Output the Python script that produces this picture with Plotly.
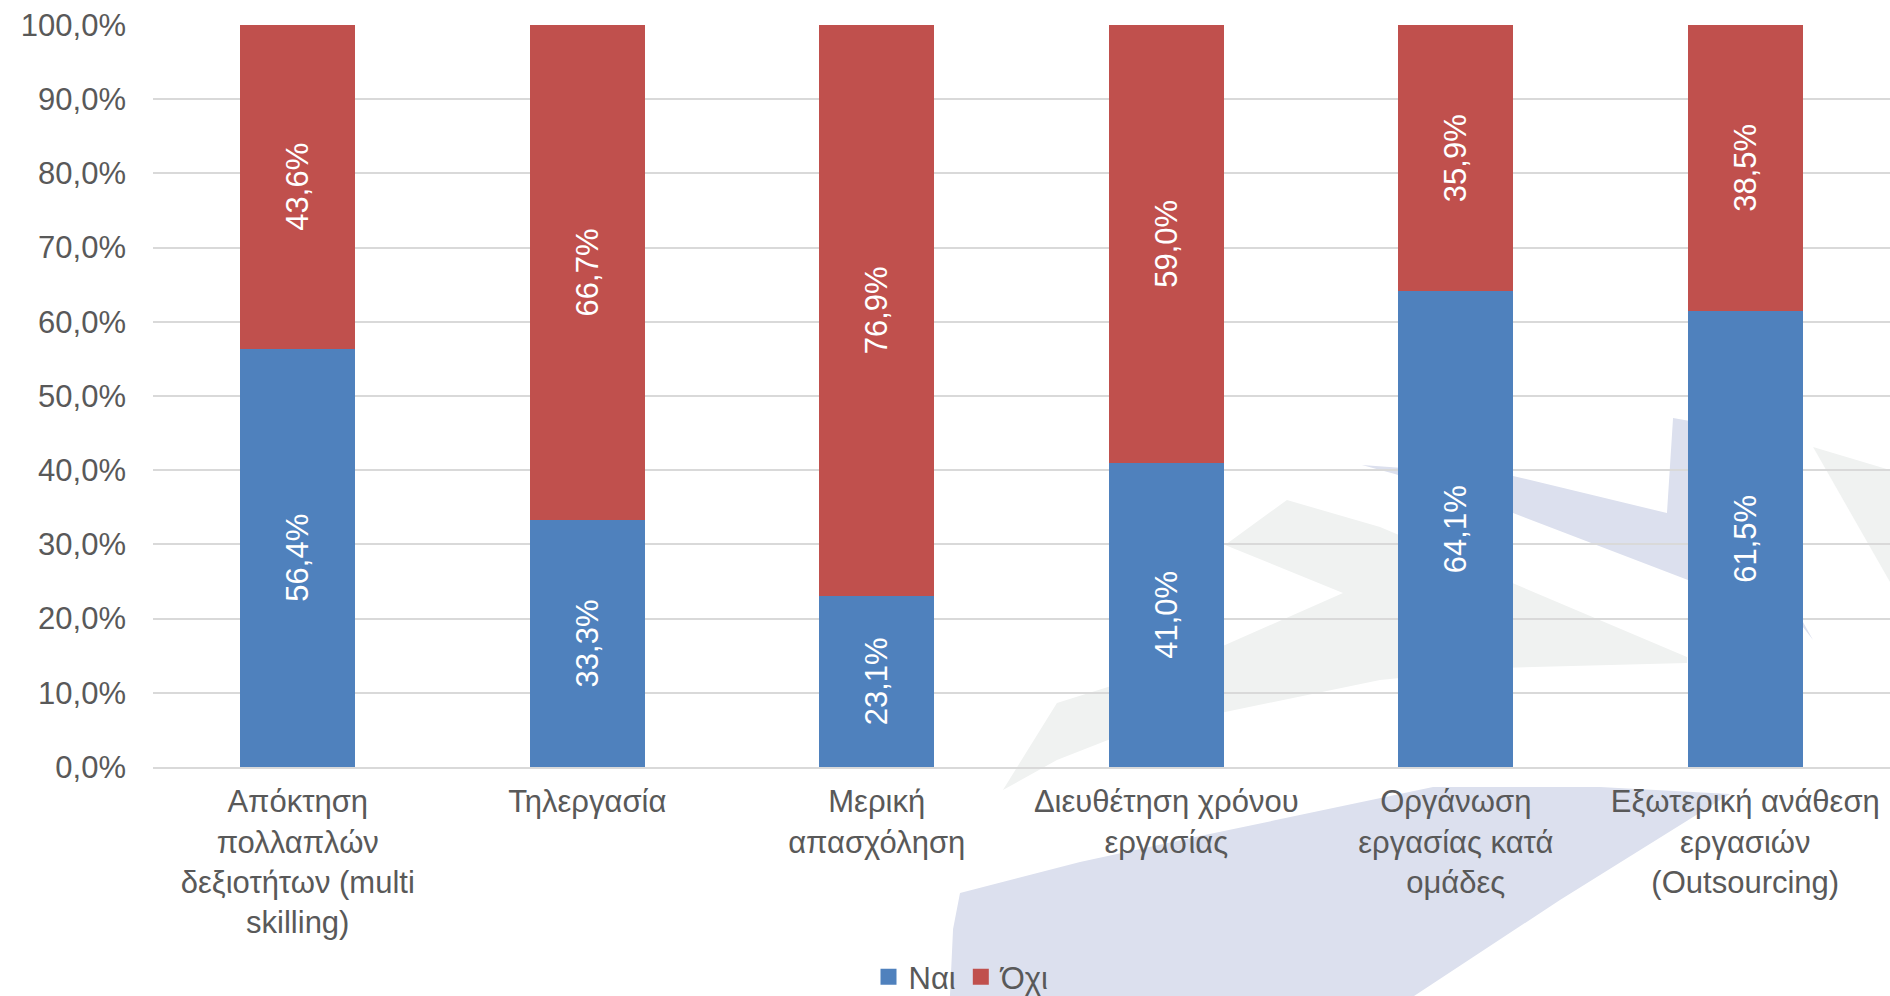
import plotly.graph_objects as go

categories = [
    "Απόκτηση<br>πολλαπλών<br>δεξιοτήτων (multi<br>skilling)",
    "Τηλεργασία",
    "Μερική<br>απασχόληση",
    "Διευθέτηση χρόνου<br>εργασίας",
    "Οργάνωση<br>εργασίας κατά<br>ομάδες",
    "Εξωτερική ανάθεση<br>εργασιών<br>(Outsourcing)",
]
yes_values = [56.4, 33.3, 23.1, 41.0, 64.1, 61.5]
no_values = [43.6, 66.7, 76.9, 59.0, 35.9, 38.5]
series_names = ["Ναι", "Όχι"]
y_ticks = [0, 10, 20, 30, 40, 50, 60, 70, 80, 90, 100]
y_ticktext = [f"{v:.1f}%".replace(".", ",") for v in y_ticks]

W, H = 1890, 996
L, R, T, B = 153, 0, 25, 229
FONT = "Liberation Sans, Arial, sans-serif"
GREY = "#595959"
FS = 31
colors = ["#4F81BD", "#C0504D"]

fig = go.Figure()
for name, vals, col in [(series_names[0], yes_values, colors[0]),
                        (series_names[1], no_values, colors[1])]:
    fig.add_trace(go.Bar(
        x=categories, y=vals, name=name, showlegend=False,
        marker=dict(color=col, line=dict(width=0)),
        texttemplate="%{y:.1f}%", textposition="inside",
        insidetextanchor="middle", textangle=-90,
        textfont=dict(color="white", size=FS, family=FONT),
        hoverinfo="x+y+name",
    ))
# legend entries (square swatches)
for name, col in zip(series_names, colors):
    fig.add_trace(go.Scatter(
        x=[None], y=[None], name=name, mode="markers",
        marker=dict(symbol="square", size=16, color=col),
    ))

# decorative watermark (pixel coords -> paper coords)
pw, ph = W - L - R, H - T - B
def px(x):
    return (x - L) / pw
def py(y):
    return (H - B - y) / ph
def path(pts):
    return "M " + " L ".join(f"{px(x):.4f},{py(y):.4f}" for x, y in pts) + " Z"

wm_blue = "#DCE0EE"
wm_grey = "#F0F2F1"
shapes = [
    dict(type="path", xref="paper", yref="paper", layer="below", line=dict(width=0),
         fillcolor=wm_grey,
         path=path([(1003, 790), (1057, 703), (1108, 687), (1225, 645), (1343, 593),
                    (1225, 545), (1287, 500), (1380, 527), (1687, 657), (1687, 663),
                    (1500, 668), (1380, 680), (1225, 712), (1108, 740), (1057, 760)])),
    dict(type="path", xref="paper", yref="paper", layer="below", line=dict(width=0),
         fillcolor=wm_grey,
         path=path([(1813, 447), (1890, 470), (1890, 582)])),
    dict(type="path", xref="paper", yref="paper", layer="below", line=dict(width=0),
         fillcolor=wm_blue,
         path=path([(1362, 465), (1513, 476), (1667, 513), (1673, 418), (1690, 421),
                    (1813, 640), (1803, 627), (1688, 580), (1513, 513), (1395, 474)])),
    dict(type="path", xref="paper", yref="paper", layer="below", line=dict(width=0),
         fillcolor=wm_blue,
         path=path([(950, 996), (953, 929), (960, 893), (1080, 862), (1200, 836),
                    (1433, 787), (1600, 787), (1730, 794), (1560, 900), (1414, 996)])),
]

fig.update_layout(
    width=W, height=H,
    margin=dict(l=L, r=R, t=T, b=B, pad=0, autoexpand=False),
    paper_bgcolor="white", plot_bgcolor="rgba(0,0,0,0)",
    barmode="stack", bargap=0.603,
    separators=",.",
    font=dict(family=FONT, size=FS, color=GREY),
    showlegend=True,
    legend=dict(orientation="h", x=(962 - L) / pw, xanchor="center",
                y=py(977), yanchor="middle", font=dict(size=FS, color=GREY),
                bgcolor="rgba(0,0,0,0)", itemwidth=30, traceorder="normal",
                tracegroupgap=0),
    shapes=shapes,
    xaxis=dict(showgrid=False, showline=True, linecolor="#D9D9D9", linewidth=2,
               tickfont=dict(size=FS, color=GREY), ticks="", ticklabelstandoff=6,
               automargin=False),
    yaxis=dict(range=[0, 100], tickvals=y_ticks, ticktext=y_ticktext,
               showgrid=True, gridcolor="#D9D9D9", gridwidth=1.5, zeroline=False,
               showline=False, ticks="", ticklabelstandoff=26, automargin=False,
               tickfont=dict(size=FS, color=GREY)),
)

fig.write_html("out.html", config={"displayModeBar": False},
               post_script="document.body.style.margin='0';")
